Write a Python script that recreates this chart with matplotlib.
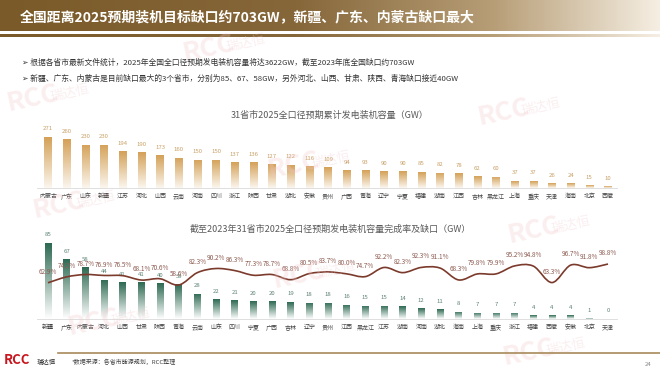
import numpy as np
import matplotlib
matplotlib.use("Agg")
import matplotlib.pyplot as plt
from matplotlib.colors import LinearSegmentedColormap
from matplotlib.path import Path
from matplotlib.patches import PathPatch
from matplotlib.lines import Line2D

plt.rcParams['font.family'] = ['Noto Sans CJK SC', 'DejaVu Sans']

# ---- data ----
cap_names = ['内蒙古', '广东', '山东', '新疆', '江苏', '河北', '山西', '云南', '河南', '四川',
             '浙江', '陕西', '甘肃', '湖北', '安徽', '贵州', '广西', '青海', '辽宁', '宁夏',
             '福建', '湖南', '江西', '吉林', '黑龙江', '上海', '重庆', '天津', '海南', '北京', '西藏']
cap_values = [271, 260, 230, 230, 194, 190, 173, 160, 150, 150,
              137, 136, 127, 122, 116, 109, 94, 93, 90, 90,
              85, 82, 78, 62, 60, 37, 37, 26, 24, 15, 10]

gap_names = ['新疆', '广东', '内蒙古', '河北', '山西', '甘肃', '陕西', '青海', '云南', '山东',
             '四川', '宁夏', '广西', '吉林', '辽宁', '贵州', '江西', '黑龙江', '江苏', '湖南',
             '河南', '湖北', '海南', '上海', '重庆', '浙江', '福建', '西藏', '安徽', '北京', '天津']
gap_values = [85, 67, 58, 44, 41, 41, 40, 39, 28, 22,
              21, 20, 20, 19, 18, 18, 16, 15, 15, 14,
              12, 11, 8, 7, 7, 7, 4, 4, 4, 1, 0]
done_rate = [62.9, 74.2, 78.7, 76.9, 76.5, 68.1, 70.6, 58.6, 82.3, 90.2,
             86.3, 77.3, 78.7, 68.8, 80.5, 83.7, 80.0, 74.7, 92.2, 82.3,
             92.3, 91.1, 68.3, 79.8, 79.9, 95.2, 94.8, 63.3, 96.7, 91.8, 98.8]

title = '全国距离2025预期装机目标缺口约703GW，新疆、广东、内蒙古缺口最大'
bullets = ['根据各省市最新文件统计，2025年全国全口径预期发电装机容量将达3622GW，截至2023年底全国缺口约703GW',
           '新疆、广东、内蒙古是目前缺口最大的3个省市，分别为85、67、58GW，另外河北、山西、甘肃、陕西、青海缺口接近40GW']
top_title = '31省市2025全口径预期累计发电装机容量（GW）'
bot_title = '截至2023年31省市2025全口径预期发电装机容量完成率及缺口（GW）'
source = '*数据来源：各省市能源规划，RCC整理'

W, H = 660, 372
fig = plt.figure(figsize=(W / 100, H / 100), dpi=100)


def box(x, y, w, h):
    # pixel box (top-left origin) -> figure fraction
    return [x / W, 1 - (y + h) / H, w / W, h / H]


# ---- header band ----
hdr = LinearSegmentedColormap.from_list('hdr', [(0, '#7a5a28'), (0.45, '#86673a'),
                                                (0.75, '#b79e77'), (1, '#f5eee2')])
ax_h = fig.add_axes(box(0, 0, W, 31))
ax_h.imshow(np.linspace(0, 1, 256)[None, :], aspect='auto', cmap=hdr)
ax_h.axis('off')
ax_s = fig.add_axes(box(0, 34.3, W, 2.6))
ax_s.imshow(np.linspace(0, 1, 256)[None, :], aspect='auto', cmap=hdr)
ax_s.axis('off')
fig.text(20 / W, 1 - 17 / H, title, color='white', fontsize=10, fontweight='bold',
         va='center', ha='left')

# ---- watermarks ----
def watermark(x, y, size=19):
    fig.text(x / W, 1 - y / H, 'RCC', color='#f2c8cc', alpha=0.3, fontsize=size,
             fontweight='bold', rotation=12, ha='left', va='center', zorder=0)
    fig.text((x + size * 2.4) / W, 1 - (y - size * 0.25) / H, '瑞达恒', color='#f2c8cc',
             alpha=0.3, fontsize=size * 0.5, rotation=12, ha='left', va='center', zorder=0)

for wx, wy in [(180, 48), (4, 98), (30, 205), (475, 112), (265, 165),
               (505, 230), (270, 275), (65, 322), (500, 352)]:
    watermark(wx, wy)

# ---- bullets ----
for i, b in enumerate(bullets):
    fig.text(22 / W, 1 - (63 + 16 * i) / H, '➢ ' + b, fontsize=5.6, color='#333333',
             va='center', ha='left')


def grad_bars(ax, values, top_color, bottom_color, width):
    cmap = LinearSegmentedColormap.from_list('g', [bottom_color, top_color])
    grad = np.linspace(0, 1, 100)[:, None]
    bars = ax.bar(np.arange(len(values)), values, width=width, color='none')
    for bar in bars:
        x0 = bar.get_x()
        h = bar.get_height()
        if h <= 0:
            continue
        im = ax.imshow(grad, extent=[x0, x0 + width, 0, h], origin='lower',
                       aspect='auto', cmap=cmap, zorder=2)
        im.set_clip_path(bar)
    return bars


step = 560 / 30  # px per category

# ---- top chart ----
ax1 = fig.add_axes(box(48 - 0.6 * step, 128, 31.1 * step, 60))
grad_bars(ax1, cap_values, '#d4a158', '#fbf6ee', 0.38)
ax1.set_xlim(-0.6, 30.5)
ax1.set_ylim(0, 60 / (51 / 271))
for i, v in enumerate(cap_values):
    ax1.annotate(str(v), (i, v), xytext=(0, 4), textcoords='offset points',
                 ha='center', va='bottom', fontsize=4.3, color='#c9a066')
ax1.set_xticks(np.arange(len(cap_names)))
ax1.set_xticklabels(cap_names, fontsize=4.3, color='#444444')
ax1.tick_params(axis='x', length=0, pad=4)
ax1.set_yticks([])
for s in ['top', 'right', 'left']:
    ax1.spines[s].set_visible(False)
ax1.spines['bottom'].set_color('#d9d9d9')
ax1.spines['bottom'].set_linewidth(0.6)
ax1.patch.set_alpha(0)
fig.text(330 / W, 1 - 115 / H, top_title, fontsize=6.5, color='#595959',
         ha='center', va='center')

# ---- bottom chart ----
ax2 = fig.add_axes(box(48 - 0.6 * step, 235, 31.1 * step, 84))
grad_bars(ax2, gap_values, '#2e6a53', '#ffffff', 0.36)
ax2.set_xlim(-0.6, 30.5)
ax2.set_ylim(0, 84 / (76 / 85))
for i, v in enumerate(gap_values):
    ax2.annotate(str(v), (i, v), xytext=(0, 4), textcoords='offset points',
                 ha='center', va='bottom', fontsize=4.3, color='#5d8374')
ax2.set_xticks(np.arange(len(gap_names)))
ax2.set_xticklabels(gap_names, fontsize=4.3, color='#444444')
ax2.tick_params(axis='x', length=0, pad=4)
ax2.set_yticks([])
for s in ['top', 'right', 'left']:
    ax2.spines[s].set_visible(False)
ax2.spines['bottom'].set_color('#d9d9d9')
ax2.spines['bottom'].set_linewidth(0.6)
ax2.patch.set_alpha(0)

ax3 = ax2.twinx()
ax3.set_ylim(-6.5, 154.4)
ax3.set_xlim(-0.6, 30.5)
ax3.axis('off')
# smooth curve through the rate points (Catmull-Rom as cubic Bezier)
pts = np.column_stack([np.arange(len(done_rate)), done_rate])
verts = [tuple(pts[0])]
codes = [Path.MOVETO]
for i in range(len(pts) - 1):
    p0 = pts[max(i - 1, 0)]
    p1, p2 = pts[i], pts[i + 1]
    p3 = pts[min(i + 2, len(pts) - 1)]
    verts += [tuple(p1 + (p2 - p0) / 6), tuple(p2 - (p3 - p1) / 6), tuple(p2)]
    codes += [Path.CURVE4] * 3
ax3.add_patch(PathPatch(Path(verts, codes), facecolor='none', edgecolor='#7b3a2b',
                        lw=1.2, zorder=4))
for i, v in enumerate(done_rate):
    ax3.annotate(f'{v:.1f}%', (i, v), xytext=(0, 5), textcoords='offset points',
                 ha='center', va='bottom', fontsize=4.6, color='#8c5a50')
fig.text(330 / W, 1 - 229 / H, bot_title, fontsize=6.5, color='#595959',
         ha='center', va='center')

# ---- footer ----
fig.add_artist(Line2D([58 / W, 1], [1 - 353 / H] * 2, color='#a88a5a', lw=1.2))
fig.text(4 / W, 1 - 360 / H, 'RCC', color='#c8161e', fontsize=9.5, fontweight='bold',
         ha='left', va='center')
fig.text(37 / W, 1 - 362 / H, '瑞达恒', color='#222222', fontsize=4.6, ha='left', va='center')
fig.text(72 / W, 1 - 362 / H, source, color='#444444', fontsize=4.3, ha='left', va='center')
fig.text(652 / W, 1 - 365 / H, '24', color='#888888', fontsize=4.3, ha='right', va='center')

fig.savefig('out.png', dpi=100)
